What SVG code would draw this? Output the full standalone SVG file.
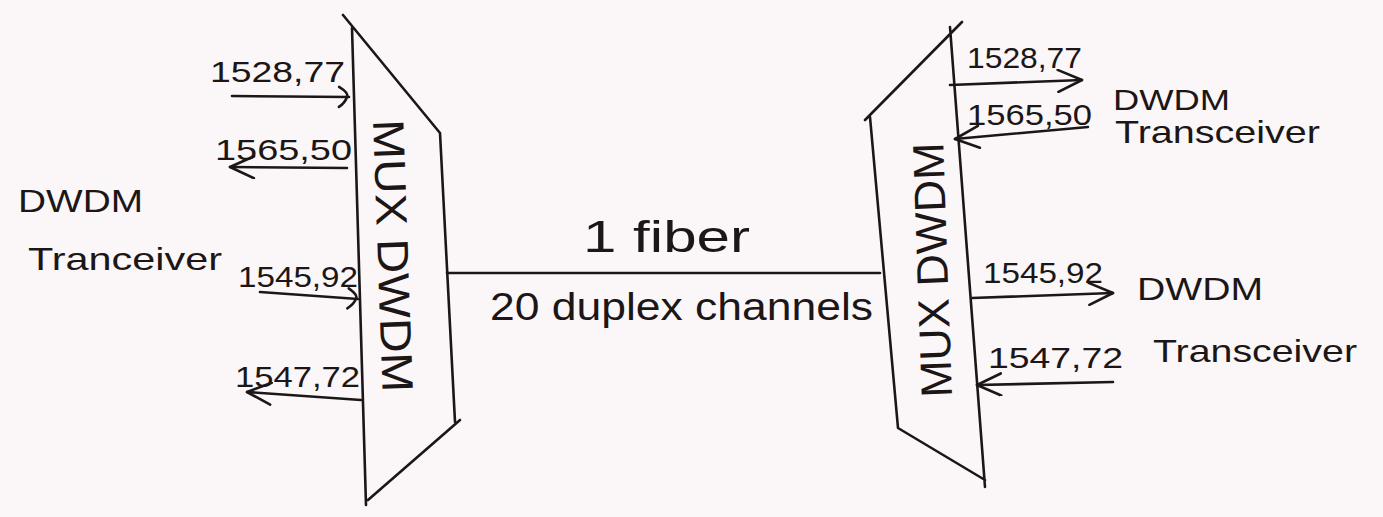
<svg xmlns="http://www.w3.org/2000/svg" width="1383" height="517" viewBox="0 0 1383 517">
<style>
.ln{fill:none;stroke:#1c1617;stroke-width:2.6;stroke-linecap:round;stroke-linejoin:round}
.t{font-family:"Liberation Sans",Arial,sans-serif;fill:#1c1617}
.lbl{font-size:30px}
.big{font-size:32px}
.mux{font-size:44px}
</style>
<defs>
<marker id="head" markerUnits="userSpaceOnUse" viewBox="0 0 28 24" markerWidth="28" markerHeight="24" refX="26" refY="12" orient="auto-start-reverse">
<path d="M2,1 L26,12 L2,23" fill="none" stroke="#1c1617" stroke-width="2.6" stroke-linecap="round" stroke-linejoin="round"/>
</marker>
<marker id="small" markerUnits="userSpaceOnUse" viewBox="0 0 14 24" markerWidth="14" markerHeight="24" refX="12" refY="12" orient="auto">
<path d="M2,2 Q12,8 10,12 Q8,18 2,22" fill="none" stroke="#1c1617" stroke-width="2.6" stroke-linecap="round"/>
</marker>
</defs>
<rect width="1383" height="517" fill="#fbf7f8"/>

<g id="mux-left">
<path class="ln" d="M343,15 L440,133 L455,422 M460,420 L368,500 M352,28 L366,505"/>
<text class="t mux" transform="translate(373,120) rotate(88)" textLength="273" lengthAdjust="spacingAndGlyphs">MUX DWDM</text>
</g>

<g id="mux-right">
<path class="ln" d="M865,120 L962,22 M870,117 L898,428 L985,480 M950,27 L985,487"/>
<text class="t mux" transform="translate(952,397) rotate(-92)" textLength="255" lengthAdjust="spacingAndGlyphs">MUX DWDM</text>
</g>

<g id="transceiver-left">
<text class="t big" x="18" y="212" textLength="125" lengthAdjust="spacingAndGlyphs">DWDM</text>
<text class="t big" x="28" y="270" textLength="194" lengthAdjust="spacingAndGlyphs">Tranceiver</text>
</g>

<g id="transceiver-right-top">
<text class="t lbl" x="1113" y="110" textLength="117" lengthAdjust="spacingAndGlyphs">DWDM</text>
<text class="t big" x="1115" y="143" textLength="205" lengthAdjust="spacingAndGlyphs">Transceiver</text>
</g>

<g id="transceiver-right-bottom">
<text class="t big" x="1137" y="300" textLength="126" lengthAdjust="spacingAndGlyphs">DWDM</text>
<text class="t big" x="1153" y="362" textLength="204" lengthAdjust="spacingAndGlyphs">Transceiver</text>
</g>

<g id="connectors">
<line class="ln" x1="447" y1="273" x2="880" y2="273"/>
<text class="t" style="font-size:44px" x="583" y="252" textLength="167" lengthAdjust="spacingAndGlyphs">1 fiber</text>
<text class="t" style="font-size:38px" x="490" y="320" textLength="383" lengthAdjust="spacingAndGlyphs">20 duplex channels</text>

<line class="ln" x1="232" y1="96" x2="349" y2="97" marker-end="url(#small)"/>
<text class="t lbl" x="210" y="82" textLength="135" lengthAdjust="spacingAndGlyphs">1528,77</text>
<line class="ln" x1="230" y1="167" x2="347" y2="168" marker-start="url(#head)"/>
<text class="t lbl" x="215" y="160" textLength="137" lengthAdjust="spacingAndGlyphs">1565,50</text>
<line class="ln" x1="260" y1="292" x2="358" y2="299" marker-end="url(#small)"/>
<text class="t lbl" x="238" y="287" textLength="120" lengthAdjust="spacingAndGlyphs">1545,92</text>
<line class="ln" x1="247" y1="392" x2="361" y2="400" marker-start="url(#head)"/>
<text class="t lbl" x="235" y="387" textLength="125" lengthAdjust="spacingAndGlyphs">1547,72</text>

<line class="ln" x1="950" y1="85" x2="1082" y2="80" marker-end="url(#head)"/>
<text class="t lbl" x="967" y="68" textLength="115" lengthAdjust="spacingAndGlyphs">1528,77</text>
<line class="ln" x1="955" y1="139" x2="1088" y2="127" marker-start="url(#head)"/>
<text class="t lbl" x="967" y="125" textLength="125" lengthAdjust="spacingAndGlyphs">1565,50</text>
<line class="ln" x1="972" y1="298" x2="1113" y2="293" marker-end="url(#head)"/>
<text class="t lbl" x="983" y="283" textLength="120" lengthAdjust="spacingAndGlyphs">1545,92</text>
<line class="ln" x1="977" y1="385" x2="1113" y2="382" marker-start="url(#head)"/>
<text class="t lbl" x="988" y="368" textLength="135" lengthAdjust="spacingAndGlyphs">1547,72</text>
</g>
</svg>
